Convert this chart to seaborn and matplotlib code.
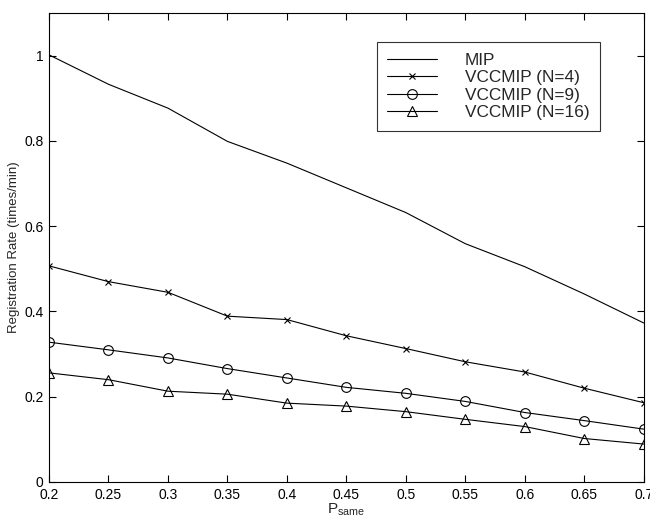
import matplotlib
matplotlib.use("Agg")
import matplotlib.pyplot as plt
import seaborn as sns
import pandas as pd

# data
p_same = [0.2, 0.25, 0.3, 0.35, 0.4, 0.45, 0.5, 0.55, 0.6, 0.65, 0.7]
mip = [1.002, 0.933, 0.877, 0.799, 0.748, 0.690, 0.632, 0.559, 0.505, 0.441, 0.373]
vcc_n4 = [0.507, 0.470, 0.445, 0.389, 0.381, 0.343, 0.313, 0.282, 0.258, 0.220, 0.186]
vcc_n9 = [0.328, 0.310, 0.291, 0.266, 0.244, 0.222, 0.208, 0.189, 0.163, 0.144, 0.124]
vcc_n16 = [0.256, 0.240, 0.213, 0.206, 0.185, 0.178, 0.165, 0.147, 0.130, 0.102, 0.089]

series = [
    ("MIP", mip, None, 0),
    ("VCCMIP (N=4)", vcc_n4, "x", 4),
    ("VCCMIP (N=9)", vcc_n9, "o", 7),
    ("VCCMIP (N=16)", vcc_n16, "^", 7),
]

sns.set_style("ticks")
plt.rcParams["font.family"] = ["Liberation Sans", "DejaVu Sans"]
plt.rcParams["mathtext.fontset"] = "custom"
plt.rcParams["mathtext.rm"] = "Liberation Sans"

fig = plt.figure(figsize=(6.5, 5.17), dpi=100)
ax = fig.add_axes([0.0754, 0.0677, 0.915, 0.907])

for nome, valores, marca, tam in series:
    df = pd.DataFrame({"x": p_same, "y": valores})
    sns.lineplot(
        data=df, x="x", y="y", ax=ax,
        color="black", linewidth=0.8,
        marker=marca, markersize=tam,
        markerfacecolor="none", markeredgecolor="black",
        markeredgewidth=0.8, label=nome,
    )

ax.set_xlim(0.2, 0.7)
ax.set_ylim(0, 1.1)
ax.set_xticks(p_same)
ax.set_xticklabels([f"{v:g}" for v in p_same])
ax.set_yticks([0, 0.2, 0.4, 0.6, 0.8, 1.0])
ax.set_yticklabels(["0", "0.2", "0.4", "0.6", "0.8", "1"])
ax.tick_params(direction="in", top=True, right=True, length=5,
               width=0.8, labelsize=10, pad=4, colors="black")
for s in ax.spines.values():
    s.set_visible(True)
    s.set_linewidth(0.8)
    s.set_color("black")

ax.set_xlabel(r"P$_{\mathrm{same}}$", fontsize=11, labelpad=0)
ax.set_ylabel("Registration Rate (times/min)", fontsize=9.5, labelpad=3)

leg = ax.legend(loc="upper left", bbox_to_anchor=(0.551, 0.938),
                fontsize=12.4, handlelength=2.9, handletextpad=1.6,
                labelspacing=0.14, borderpad=0.62, borderaxespad=0,
                fancybox=False, frameon=True, edgecolor="black")
leg.get_frame().set_linewidth(0.8)

fig.savefig("out.png", dpi=100)
